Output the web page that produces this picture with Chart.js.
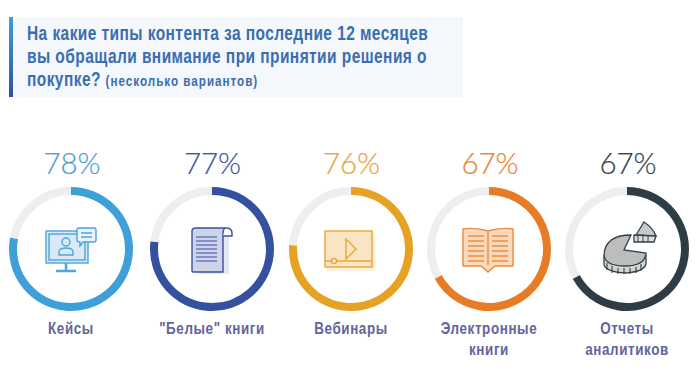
<!DOCTYPE html>
<html>
<head>
<meta charset="UTF-8">
<title>Типы контента</title>
<script src="https://cdn.jsdelivr.net/npm/chart.js@4/dist/chart.umd.min.js"></script>
<style>
html, body { margin: 0; padding: 0; background: #fff; }
#page { position: relative; width: 700px; height: 373px; overflow: hidden; font-family: "Liberation Sans", sans-serif; }
#panel { position: absolute; left: 9px; top: 17px; width: 454px; height: 80px; background: #f4f8fc; }
#panel i { position: absolute; left: 0; top: 0; width: 4px; height: 80px; background: linear-gradient(#3f9fd6, #34509f); }
#title { position: absolute; left: 27px; top: 22px; font-size: 20px; line-height: 23px; font-weight: bold; color: #3b6eae; white-space: nowrap; letter-spacing: 0.55px; transform: scaleX(0.775); transform-origin: 0 0; }
#title small { font-size: 15px; letter-spacing: 1.3px; }
canvas { position: absolute; top: 187px; }
.pct { position: absolute; top: 145px; width: 124px; text-align: center; font: 300 29.5px Lato, sans-serif; -webkit-text-stroke: 0.2px currentColor; }
.pct.shift { margin-left: 1px; }
.lbl { position: absolute; width: 160px; top: 318px; text-align: center; font-size: 17px; line-height: 21px; font-weight: bold; color: #62649c; letter-spacing: 0.75px; transform: scaleX(0.79); }
svg { position: absolute; left: 0; top: 0; }
</style>
</head>
<body>
<div id="page">
  <div id="panel"><i></i></div>
  <div id="title">На какие типы контента за последние 12 месяцев<br>вы обращали внимание при принятии решения о<br>покупке? <small>(несколько вариантов)</small></div>
  <svg width="700" height="373" fill="none" stroke-width="1.4">
    <!-- кейсы -->
    <g stroke="#4aa6dc">
      <rect x="46" y="231" width="42" height="32" fill="#dbe8f6"/>
      <rect x="49" y="234" width="36" height="26"/>
      <circle cx="66" cy="242" r="4"/>
      <path d="M59 255v-3q0-4 7-4t7 4v3z"/>
      <path d="M66 263v7M56 271h20" stroke-width="2.5"/>
      <path d="M77 230q0-2 2-2h15q2 0 2 2v10q0 2-2 2H83l-3 4v-4q-3 0-3-2z" fill="#eaf3fb"/>
      <path d="M81 233h11M81 237h11"/>
    </g>
    <!-- белые книги -->
    <g stroke="#3a4f9f">
      <path d="M195 234h34v40h-29z" fill="#e4e7f4" stroke="none"/>
      <path d="M192 231v40q0 1 1 1h30v-38q0-6 3-6h-30q-4 0-4 3z" fill="#ced3ea"/>
      <path d="M226 228q6 0 6 5v3h-9" fill="#fff"/>
      <path d="M196 237h21M196 241h21M196 245h21M196 249h21M196 253h21M196 257h21M196 261h21" stroke-width="1.2"/>
    </g>
    <!-- вебинары -->
    <g stroke="#e8a736">
      <rect x="327" y="233" width="48" height="38" fill="#fbeedb" stroke="none"/>
      <rect x="325" y="231" width="47" height="36" fill="#f9e4c3"/>
      <path d="M346 239l10 10-10 10z"/>
      <path d="M325 261h47"/>
      <circle cx="334" cy="261" r="2.6" fill="#f9e4c3"/>
    </g>
    <!-- электронные книги -->
    <g stroke="#ea8b3f">
      <path d="M463 229q12-2 25 2q13-4 25-2v37h-18l-7 6-7-6h-18z" fill="#fad9bb"/>
      <path d="M488 232v33"/>
      <path d="M468 236h16M468 241h16M468 246h16M468 251h16M468 256h16M468 261h16M492 236h16M492 241h16M492 246h16M492 251h16M492 256h16M492 261h16"/>
    </g>
    <!-- отчеты -->
    <g stroke="#33414a" stroke-width="1.3">
      <path d="M604 255v10q3 7 21 8q19-1 21-9v-9" fill="#d5d5d5"/>
      <path d="M631 235q-26 0-27 20q1 11 21 11q20 0 21-13l-22-3z" fill="#bdbdbd"/>
      <path d="M607 263v7M612 266v7M618 268v6M624 268v6M630 268v6M636 267v6M641 264v7" stroke-width="1.1"/>
      <path d="M636 235l8-13q9 6 12 14z" fill="#c9c9c9"/>
      <path d="M634 235v7h20l2-6z" fill="#ddd"/>
      <path d="M638 235v7M643 235v7M648 235v7" stroke-width="1"/>
    </g>
  </svg>
</div>
<script>
const categories = [['Кейсы'], ['"Белые" книги'], ['Вебинары'], ['Электронные', 'книги'], ['Отчеты', 'аналитиков']];
const values = [78, 77, 76, 67, 67];
const colors = ['#3f9fd8', '#34509f', '#e6a224', '#e87b26', '#2e3c45'];
const pctColors = ['#4f9fd4', '#3f58a3', '#e6a63f', '#e98436', '#36444d'];
const centers = [71, 211.5, 350.5, 489, 627];

const page = document.getElementById('page');
categories.forEach((cat, i) => {
    const canvas = document.createElement('canvas');
    canvas.width = 124;
    canvas.height = 124;
    canvas.style.width = '124px';
    canvas.style.height = '124px';
    canvas.style.left = (centers[i] - 62) + 'px';
    page.appendChild(canvas);

    new Chart(canvas.getContext('2d'), {
        type: 'doughnut',
        data: {
            labels: ['Да', 'Нет'],
            datasets: [{
                data: [values[i], 100 - values[i]],
                backgroundColor: [colors[i], '#eeeeee'],
                borderWidth: 0
            }]
        },
        options: {
            responsive: false,
            animation: false,
            cutout: 54,
            plugins: { legend: { display: false }, tooltip: { enabled: false } }
        }
    });

    const pct = document.createElement('div');
    pct.className = 'pct shift';
    pct.style.left = (centers[i] - 62) + 'px';
    pct.style.color = pctColors[i];
    pct.textContent = values[i] + '%';
    page.appendChild(pct);

    const lbl = document.createElement('div');
    lbl.className = 'lbl';
    lbl.style.left = (centers[i] - 80) + 'px';
    lbl.innerHTML = cat.join('<br>');
    page.appendChild(lbl);
});
</script>
</body>
</html>
